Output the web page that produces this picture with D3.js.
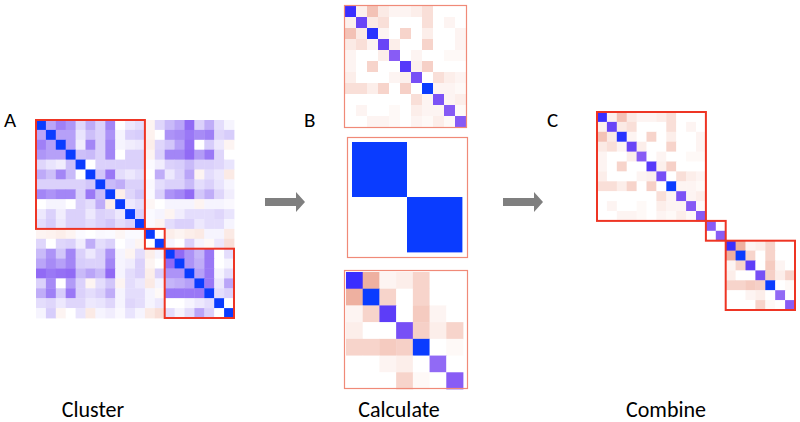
<!DOCTYPE html>
<html>
<head>
<meta charset="utf-8">
<script src="https://cdn.jsdelivr.net/npm/d3@7/dist/d3.min.js"></script>
<style>
  html, body { margin: 0; padding: 0; background: #fff; }
  svg { display: block; }
  text { font-family: Carlito, Lato, "Open Sans", sans-serif; fill: #000; }
</style>
</head>
<body>
<svg id="chart" width="800" height="422"></svg>
<script>
// ---------------- DATA ----------------
const panelLetters = ["A", "B", "C"];
const stepLabels = ["Cluster", "Calculate", "Combine"];
const clusterSizes = [11, 2, 7];

// Panel A: full correlation matrix (lower triangle rows, symmetric)
const corrLower = [
  [1],
  [0.38, 1],
  [0.52, 0.40, 1],
  [0.44, 0.40, 0.40, 1],
  [0.18, 0.12, 0.08, 0.28, 1],
  [0.36, 0.28, 0.50, 0.30, 0.00, 1],
  [0.20, 0.20, 0.20, 0.20, 0.20, 0.25, 1],
  [0.50, 0.45, 0.50, 0.50, 0.20, 0.55, 0.30, 1],
  [0.00, 0.05, 0.05, 0.00, 0.20, 0.15, 0.35, -0.08, 1],
  [0.10, 0.20, 0.08, 0.20, 0.20, 0.10, 0.20, 0.18, 0.10, 1],
  [0.15, 0.22, 0.10, 0.20, 0.20, 0.15, 0.20, 0.25, 0.15, 0.20, 1],
  [-0.05, -0.06, -0.08, -0.05, 0.02, 0.00, 0.03, 0.02, -0.04, 0.02, 0.02, 1],
  [0.18, 0.00, 0.18, 0.20, 0.08, 0.35, 0.15, 0.20, 0.00, 0.05, -0.05, 0.00, 1],
  [0.30, 0.45, 0.25, 0.50, 0.20, 0.10, 0.20, 0.45, 0.05, -0.05, 0.15, -0.08, 0.05, 1],
  [0.38, 0.48, 0.40, 0.50, 0.22, 0.20, 0.20, 0.50, 0.05, 0.08, 0.20, -0.05, 0.00, 0.60, 1],
  [0.60, 0.55, 0.58, 0.60, 0.30, 0.38, 0.30, 0.60, 0.05, 0.15, 0.20, -0.08, 0.20, 0.45, 0.45, 1],
  [0.20, 0.48, 0.00, 0.42, 0.20, -0.05, 0.15, 0.25, -0.05, 0.15, 0.10, -0.10, 0.05, 0.32, 0.35, 0.40, 1],
  [0.35, 0.52, 0.22, 0.55, 0.20, 0.15, 0.20, 0.35, 0.05, 0.15, 0.15, 0.05, -0.03, 0.55, 0.55, 0.55, 0.55, 1],
  [0.15, 0.18, 0.10, 0.18, 0.18, 0.10, 0.12, 0.18, 0.05, 0.18, 0.15, 0.05, 0.10, 0.00, 0.00, 0.05, 0.10, 0.15, 1],
  [0.05, 0.22, -0.05, 0.00, 0.12, -0.10, 0.05, 0.08, 0.03, 0.12, 0.05, -0.10, -0.15, 0.15, 0.05, 0.15, 0.38, 0.20, 0.00, 1]
];

// Panel B: per-cluster results (lower triangle rows, symmetric)
const calcTopLower = [
  [0.92],
  [-0.07, 0.78],
  [-0.30, -0.10, 0.95],
  [-0.10, -0.15, -0.05, 0.78],
  [-0.05, 0.00, 0.00, -0.08, 0.65],
  [-0.05, 0.00, -0.20, 0.00, 0.00, 0.84],
  [-0.08, 0.00, 0.00, 0.00, -0.05, -0.07, 0.72],
  [-0.15, -0.15, -0.08, -0.20, 0.00, -0.22, 0.00, 1],
  [0.00, 0.00, 0.00, 0.00, 0.00, 0.00, -0.15, -0.05, 0.70],
  [0.00, -0.05, 0.00, 0.00, -0.03, 0.00, -0.08, -0.05, -0.05, 0.66],
  [0.00, 0.00, -0.05, -0.05, -0.03, 0.00, -0.05, -0.03, -0.08, -0.03, 0.66]
];
const calcMidLower = [
  [1],
  [0, 1]
];
const calcBottomLower = [
  [0.92],
  [-0.40, 1],
  [-0.05, -0.20, 0.82],
  [-0.08, 0.00, 0.00, 0.72],
  [-0.20, -0.20, -0.25, -0.22, 1],
  [0.00, 0.00, -0.05, -0.08, 0.00, 0.60],
  [0.00, 0.00, 0.00, -0.20, -0.03, 0.00, 0.65]
];
// Panel C: the middle cluster as it appears after combining
const combineMidLower = [
  [0.65],
  [0, 0.65]
];

// ---------------- HELPERS ----------------
function full(lower) {
  const n = lower.length;
  const m = [];
  for (let i = 0; i < n; i++) {
    m.push([]);
    for (let j = 0; j < n; j++) m[i].push(j <= i ? lower[i][j] : lower[j][i]);
  }
  return m;
}
function cells(m, offset) {
  const out = [];
  m.forEach((row, i) => row.forEach((v, j) => out.push({ i: i + offset, j: j + offset, v })));
  return out;
}

const color = d3.scaleLinear()
  .domain([-0.6, -0.4, -0.2, 0, 0.15, 0.3, 0.5, 0.65, 0.8, 0.92, 1])
  .range(["#e28f7c", "#eeb0a0", "#f7d4cb", "#ffffff", "#e4ddfc", "#c9baf9",
          "#a386f6", "#885cf5", "#6440f7", "#3a2eff", "#0a3cff"])
  .clamp(true);

const svg = d3.select("#chart");

function drawMatrix(g, data, x0, y0, n, size) {
  const xs = d3.scaleBand().domain(d3.range(n)).range([x0, x0 + size]);
  const ys = d3.scaleBand().domain(d3.range(n)).range([y0, y0 + size]);
  g.selectAll(null).data(data).enter().append("rect")
    .attr("x", d => xs(d.j))
    .attr("y", d => ys(d.i))
    .attr("width", xs.bandwidth() + 0.4)
    .attr("height", ys.bandwidth() + 0.4)
    .attr("fill", d => color(d.v));
  return { xs, ys };
}

const N = corrLower.length;
const starts = clusterSizes.map((s, k) => d3.sum(clusterSizes.slice(0, k)));

// ---------------- PANEL A ----------------
const gA = svg.append("g");
const A = drawMatrix(gA, cells(full(corrLower), 0), 36, 120, N, 198);
clusterSizes.forEach((s, k) => {
  const a = starts[k];
  gA.append("rect")
    .attr("x", A.xs(a)).attr("y", A.ys(a))
    .attr("width", A.xs.bandwidth() * s).attr("height", A.ys.bandwidth() * s)
    .attr("fill", "none").attr("stroke", "#ee3524").attr("stroke-width", 2);
});

// ---------------- PANEL B ----------------
const gB = svg.append("g");
const bPanels = [
  { lower: calcTopLower, box: [344.5, 5.5, 122, 122], m: [345, 6, 121] },
  { lower: calcMidLower, box: [347.5, 137.5, 120, 120], m: [352, 142, 110] },
  { lower: calcBottomLower, box: [344.5, 270.5, 123, 118], m: [346, 272, 117] }
];
bPanels.forEach(p => {
  const n = p.lower.length;
  drawMatrix(gB, cells(full(p.lower), 0), p.m[0], p.m[1], n, p.m[2]);
  gB.append("rect")
    .attr("x", p.box[0]).attr("y", p.box[1])
    .attr("width", p.box[2]).attr("height", p.box[3])
    .attr("fill", "none").attr("stroke", "#f08a78").attr("stroke-width", 1.2);
});

// ---------------- PANEL C ----------------
const gC = svg.append("g");
const blockC = [calcTopLower, combineMidLower, calcBottomLower];
const cData = [];
blockC.forEach((lower, k) => cells(full(lower), starts[k]).forEach(d => cData.push(d)));
const C = drawMatrix(gC, cData, 597, 112, N, 198);
clusterSizes.forEach((s, k) => {
  const a = starts[k];
  gC.append("rect")
    .attr("x", C.xs(a)).attr("y", C.ys(a))
    .attr("width", C.xs.bandwidth() * s).attr("height", C.ys.bandwidth() * s)
    .attr("fill", "none").attr("stroke", "#ee3524").attr("stroke-width", 2);
});

// ---------------- ARROWS ----------------
[265, 503].forEach(x => {
  svg.append("path")
    .attr("d", `M${x},198 L${x + 31},198 L${x + 31},192 L${x + 40},202 L${x + 31},212 L${x + 31},206 L${x},206 Z`)
    .attr("fill", "#7f7f7f");
});

// ---------------- TEXT ----------------
const letterX = [4, 304, 547];
panelLetters.forEach((t, k) => {
  svg.append("text").attr("x", letterX[k]).attr("y", 127)
    .attr("font-size", 21).text(t);
});
const labelX = [93, 399, 666];
stepLabels.forEach((t, k) => {
  svg.append("text").attr("x", labelX[k]).attr("y", 417)
    .attr("text-anchor", "middle").attr("font-size", 22).text(t);
});
</script>
</body>
</html>
